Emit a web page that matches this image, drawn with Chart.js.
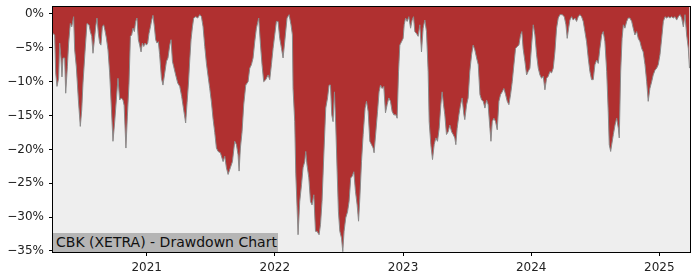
<!DOCTYPE html>
<html>
<head>
<meta charset="utf-8">
<script src="https://cdn.jsdelivr.net/npm/chart.js@4"></script>
<style>
  html, body { margin: 0; padding: 0; background: #fff; }
  #wrap { position: relative; width: 700px; height: 280px; }
  #label {
    position: absolute; left: 53px; top: 233px; width: 222px; height: 19px;
    padding-left: 3px; background: #b5b5b5; color: #111;
    font: 14px "DejaVu Sans", sans-serif; line-height: 19px; white-space: nowrap;
  }
</style>
</head>
<body>
<div id="wrap">
  <canvas id="ddChart" width="700" height="280"></canvas>
  <div id="label">CBK (XETRA) - Drawdown Chart</div>
</div>
<script>
// decimal year of each sample
const dates = [
  2020.269, 2020.282, 2020.290, 2020.300, 2020.313, 2020.321, 2020.331, 2020.339, 2020.347, 2020.360,
  2020.368, 2020.381, 2020.391, 2020.404, 2020.415, 2020.430, 2020.438, 2020.451, 2020.467, 2020.482,
  2020.493, 2020.503, 2020.518, 2020.534, 2020.550, 2020.560, 2020.571, 2020.581, 2020.592, 2020.602,
  2020.612, 2020.623, 2020.633, 2020.643, 2020.654, 2020.664, 2020.674, 2020.685, 2020.698, 2020.711,
  2020.724, 2020.737, 2020.750, 2020.763, 2020.776, 2020.789, 2020.802, 2020.815, 2020.824, 2020.838,
  2020.849, 2020.862, 2020.873, 2020.883, 2020.893, 2020.904, 2020.914, 2020.924, 2020.935, 2020.945,
  2020.956, 2020.966, 2020.977, 2020.987, 2020.998, 2021.008, 2021.018, 2021.029, 2021.039, 2021.049,
  2021.060, 2021.070, 2021.080, 2021.091, 2021.101, 2021.115, 2021.127, 2021.141, 2021.154, 2021.166,
  2021.180, 2021.190, 2021.201, 2021.211, 2021.226, 2021.242, 2021.258, 2021.273, 2021.289, 2021.304,
  2021.315, 2021.326, 2021.336, 2021.346, 2021.357, 2021.367, 2021.383, 2021.398, 2021.414, 2021.427,
  2021.440, 2021.453, 2021.466, 2021.479, 2021.492, 2021.505, 2021.518, 2021.531, 2021.544, 2021.557,
  2021.575, 2021.596, 2021.609, 2021.622, 2021.635, 2021.653, 2021.669, 2021.687, 2021.700, 2021.713,
  2021.721, 2021.731, 2021.744, 2021.757, 2021.773, 2021.791, 2021.804, 2021.817, 2021.830, 2021.843,
  2021.856, 2021.874, 2021.888, 2021.900, 2021.913, 2021.929, 2021.947, 2021.960, 2021.973, 2021.986,
  2021.999, 2022.012, 2022.025, 2022.038, 2022.052, 2022.064, 2022.077, 2022.095, 2022.111, 2022.126,
  2022.137, 2022.142, 2022.155, 2022.163, 2022.173, 2022.181, 2022.194, 2022.208, 2022.220, 2022.233,
  2022.241, 2022.251, 2022.265, 2022.278, 2022.290, 2022.304, 2022.317, 2022.329, 2022.345, 2022.356,
  2022.368, 2022.382, 2022.397, 2022.411, 2022.423, 2022.434, 2022.444, 2022.454, 2022.465, 2022.475,
  2022.486, 2022.496, 2022.507, 2022.520, 2022.530, 2022.540, 2022.553, 2022.567, 2022.579, 2022.592,
  2022.603, 2022.616, 2022.629, 2022.642, 2022.653, 2022.663, 2022.676, 2022.689, 2022.704, 2022.715,
  2022.728, 2022.741, 2022.754, 2022.767, 2022.774, 2022.788, 2022.801, 2022.813, 2022.824, 2022.837,
  2022.850, 2022.863, 2022.876, 2022.889, 2022.902, 2022.915, 2022.928, 2022.944, 2022.954, 2022.965,
  2022.975, 2022.988, 2023.001, 2023.009, 2023.020, 2023.032, 2023.045, 2023.059, 2023.071, 2023.082,
  2023.092, 2023.105, 2023.118, 2023.131, 2023.144, 2023.157, 2023.170, 2023.183, 2023.196, 2023.204,
  2023.217, 2023.230, 2023.243, 2023.256, 2023.269, 2023.282, 2023.295, 2023.305, 2023.316, 2023.326,
  2023.339, 2023.352, 2023.365, 2023.379, 2023.391, 2023.404, 2023.412, 2023.422, 2023.436, 2023.449,
  2023.461, 2023.475, 2023.482, 2023.496, 2023.508, 2023.521, 2023.535, 2023.547, 2023.560, 2023.574,
  2023.587, 2023.600, 2023.613, 2023.626, 2023.639, 2023.652, 2023.664, 2023.678, 2023.686, 2023.696,
  2023.709, 2023.722, 2023.735, 2023.748, 2023.761, 2023.774, 2023.787, 2023.800, 2023.813, 2023.826,
  2023.839, 2023.852, 2023.865, 2023.878, 2023.891, 2023.904, 2023.917, 2023.927, 2023.937, 2023.951,
  2023.964, 2023.976, 2023.990, 2024.003, 2024.016, 2024.029, 2024.042, 2024.055, 2024.068, 2024.081,
  2024.094, 2024.107, 2024.120, 2024.133, 2024.146, 2024.159, 2024.172, 2024.185, 2024.198, 2024.211,
  2024.224, 2024.242, 2024.258, 2024.271, 2024.281, 2024.292, 2024.302, 2024.315, 2024.328, 2024.341,
  2024.354, 2024.367, 2024.380, 2024.393, 2024.406, 2024.419, 2024.432, 2024.445, 2024.458, 2024.471,
  2024.484, 2024.497, 2024.511, 2024.523, 2024.536, 2024.550, 2024.562, 2024.575, 2024.589, 2024.601,
  2024.609, 2024.620, 2024.628, 2024.641, 2024.654, 2024.667, 2024.680, 2024.687, 2024.698, 2024.709,
  2024.719, 2024.731, 2024.745, 2024.757, 2024.770, 2024.784, 2024.796, 2024.809, 2024.823, 2024.835,
  2024.849, 2024.862, 2024.874, 2024.888, 2024.901, 2024.913, 2024.926, 2024.940, 2024.952, 2024.966,
  2024.979, 2024.991, 2025.005, 2025.018, 2025.031, 2025.044, 2025.057, 2025.069, 2025.083, 2025.096,
  2025.108, 2025.122, 2025.135, 2025.148, 2025.161, 2025.174, 2025.187, 2025.200, 2025.213, 2025.226,
  2025.235
];

// drawdown in percent
const drawdown = [
  -2.9, -3.1, -8.7, -10.7, -9.5, -4.3, -6.5, -9.3, -6.5, -6.5,
  -11.7, -7.8, -4.3, -1.4, -1.9, -0.4, -5.3, -7.8, -12.7, -16.6,
  -14.2, -10.2, -5.8, -1.4, -1.6, -2.6, -3.3, -5.8, -3.8, -1.9,
  -0.6, -2.9, -4.3, -4.6, -1.9, -1.6, -2.4, -3.5, -5.3, -8.7,
  -13.7, -18.8, -16.0, -12.7, -9.5, -12.7, -12.4, -12.7, -13.5, -19.8,
  -15.2, -10.2, -3.3, -3.1, -2.1, -2.6, -1.1, -0.6, -3.8, -4.6,
  -5.6, -4.3, -4.8, -4.3, -4.6, -4.3, -2.9, -1.9, -0.9, -0.2,
  -1.9, -3.8, -4.3, -4.1, -6.0, -9.5, -10.5, -8.7, -7.0, -6.5,
  -4.6, -3.8, -7.0, -7.8, -9.0, -10.2, -10.7, -12.2, -14.2, -16.1,
  -13.1, -10.2, -6.8, -3.8, -1.9, -0.6, -0.4, -0.6, -0.1, -0.4,
  -1.9, -4.8, -7.3, -9.2, -11.0, -13.0, -15.5, -17.5, -19.8, -20.3,
  -20.5, -21.8, -21.0, -22.7, -23.7, -22.7, -21.8, -18.8, -19.3, -20.8,
  -23.2, -19.8, -17.4, -13.4, -10.5, -10.0, -8.0, -7.5, -6.5, -4.1,
  -2.1, -0.6, -4.6, -7.5, -10.0, -9.7, -9.0, -9.7, -7.5, -5.1,
  -3.1, -1.1, -1.1, -3.6, -5.1, -6.5, -4.1, -0.6, -0.1, -1.6,
  -3.1, -11.0, -15.9, -23.5, -28.4, -32.6, -27.7, -25.2, -22.7, -21.8,
  -20.3, -22.3, -24.2, -27.7, -28.2, -26.7, -32.1, -32.1, -32.6, -31.1,
  -27.7, -20.8, -13.9, -12.4, -10.5, -10.5, -14.9, -15.9, -11.5, -16.4,
  -23.3, -29.2, -32.1, -33.1, -35.1, -32.1, -30.1, -29.2, -27.7, -24.2,
  -24.0, -23.3, -26.2, -28.2, -30.6, -27.2, -21.8, -17.8, -13.9, -12.9,
  -14.4, -18.8, -19.3, -19.8, -20.5, -17.4, -14.4, -11.5, -10.5, -11.0,
  -10.7, -14.6, -13.4, -12.4, -12.9, -14.4, -14.9, -14.9, -15.4, -8.5,
  -4.6, -4.1, -3.6, -1.6, -0.6, -1.1, -0.4, -2.1, -0.9, -0.4,
  -2.6, -2.9, -3.3, -1.6, -5.6, -2.1, -0.9, -2.6, -8.5, -15.9,
  -19.3, -21.5, -19.3, -18.3, -18.8, -16.9, -13.4, -11.5, -13.4, -14.9,
  -17.8, -17.4, -16.4, -17.4, -17.8, -18.3, -19.3, -16.9, -14.9, -13.4,
  -12.4, -14.9, -15.6, -13.4, -12.4, -8.5, -6.0, -4.6, -5.3, -6.5,
  -7.5, -11.9, -12.7, -12.9, -13.9, -12.7, -13.4, -16.9, -18.8, -15.9,
  -15.4, -15.9, -17.1, -12.9, -11.9, -11.5, -11.0, -11.9, -12.9, -13.4,
  -11.9, -10.0, -7.5, -5.1, -4.8, -4.6, -3.1, -2.6, -5.1, -7.0,
  -9.0, -8.5, -8.0, -4.6, -1.6, -3.1, -6.0, -8.0, -9.0, -9.5,
  -9.2, -11.2, -9.5, -9.2, -8.5, -8.7, -8.0, -5.6, -2.1, -0.6,
  -0.1, -0.1, -0.4, -1.6, -3.6, -2.1, -0.9, -0.4, -0.9, -0.6,
  -1.1, -0.4, -0.1, -0.4, -1.1, -2.6, -4.1, -6.5, -8.5, -9.7,
  -9.7, -7.5, -6.8, -7.3, -5.1, -3.1, -2.6, -4.1, -8.5, -14.4,
  -19.3, -20.3, -19.3, -17.8, -16.4, -15.4, -16.9, -18.3, -8.5, -3.6,
  -1.6, -2.1, -1.1, -0.6, -0.6, -1.1, -2.1, -3.1, -2.6, -3.6,
  -4.1, -5.1, -5.6, -7.5, -10.0, -12.9, -11.0, -10.0, -9.0, -8.3,
  -8.0, -7.5, -6.0, -3.6, -1.1, -0.4, -0.6, -0.4, -0.6, -0.4,
  -0.6, -0.4, -0.9, -0.4, -0.1, -0.6, -1.9, -0.1, -3.1, -5.1,
  -8.0
];

const xTicks = [2021, 2022, 2023, 2024, 2025];
const yTicks = [0, -5, -10, -15, -20, -25, -30, -35];

const points = dates.map((d, i) => ({ x: d, y: drawdown[i] }));

const plotFrame = {
  id: "plotFrame",
  beforeDraw(chart) {
    const { ctx, chartArea: a } = chart;
    ctx.save();
    ctx.fillStyle = "#eeeeee";
    ctx.fillRect(a.left, a.top, a.right - a.left, a.bottom - a.top);
    ctx.restore();
  },
  afterDraw(chart) {
    const { ctx, chartArea: a } = chart;
    ctx.save();
    ctx.strokeStyle = "#000";
    ctx.lineWidth = 1;
    ctx.strokeRect(Math.round(a.left) - 0.5, Math.round(a.top) - 0.5,
      Math.round(a.right - a.left) + 1, Math.round(a.bottom - a.top) + 1);
    ctx.restore();
  }
};

const tickFont = { family: "'DejaVu Sans', sans-serif", size: 12 };

new Chart(document.getElementById("ddChart").getContext("2d"), {
  type: "line",
  data: {
    datasets: [{
      data: points,
      borderColor: "#8a8a8a",
      borderWidth: 1,
      backgroundColor: "#b03030",
      fill: "end",
      pointRadius: 0,
      tension: 0,
    }]
  },
  options: {
    responsive: false,
    animation: false,
    layout: { padding: { top: 7, right: 10, left: 0, bottom: 0 } },
    plugins: { legend: { display: false }, tooltip: { enabled: false } },
    scales: {
      x: {
        type: "linear",
        min: 2020.269,
        max: 2025.239,
        afterBuildTicks: s => { s.ticks = xTicks.map(v => ({ value: v })); },
        afterFit: s => { s.height = 28; s.paddingLeft = 0; s.paddingRight = 0; },
        ticks: { color: "#222", font: tickFont, padding: 5, maxRotation: 0, callback: v => String(v) },
        grid: { drawOnChartArea: false, drawTicks: true, tickLength: 4, color: "#000" },
        border: { display: false },
      },
      y: {
        min: -35.15,
        max: 1.03,
        afterBuildTicks: s => { s.ticks = yTicks.map(v => ({ value: v })); },
        afterFit: s => { s.width = 53; s.paddingTop = 0; s.paddingBottom = 0; },
        ticks: {
          color: "#222", font: tickFont, padding: 5,
          callback: v => (v === 0 ? "0%" : "\u2212" + Math.abs(v) + "%"),
        },
        grid: { drawOnChartArea: false, drawTicks: true, tickLength: 4, color: "#000" },
        border: { display: false },
      }
    }
  },
  plugins: [plotFrame]
});
</script>
</body>
</html>
